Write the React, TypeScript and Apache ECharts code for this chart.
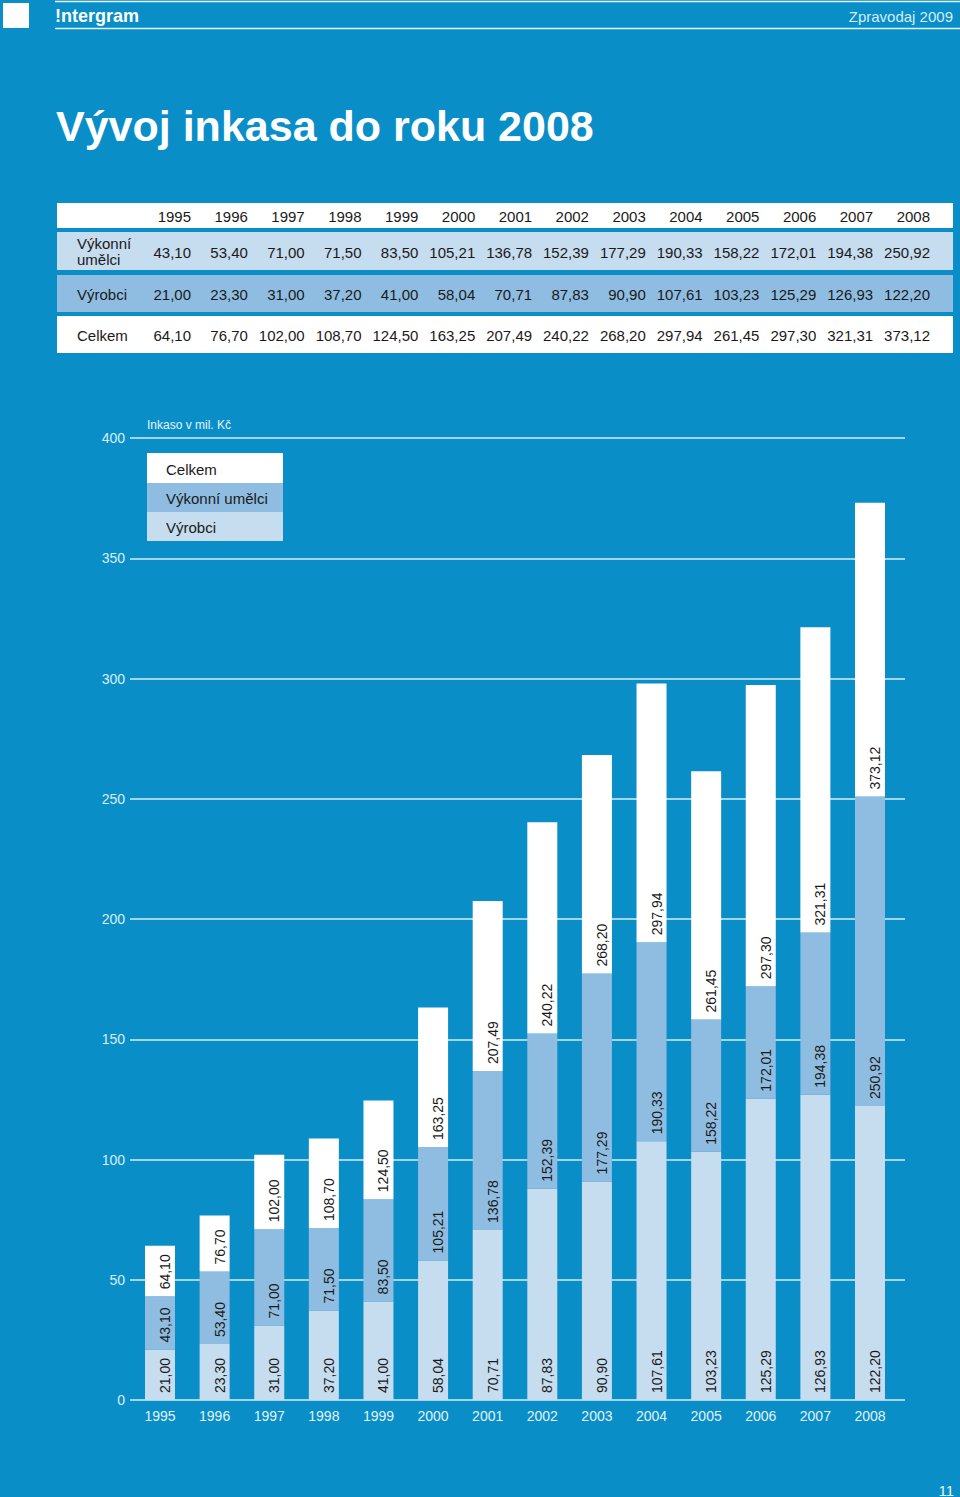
import React, { useEffect, useRef } from 'react';
import * as echarts from 'echarts';

const years = ['1995', '1996', '1997', '1998', '1999', '2000', '2001', '2002', '2003', '2004', '2005', '2006', '2007', '2008'];
const vykonni = [43.1, 53.4, 71.0, 71.5, 83.5, 105.21, 136.78, 152.39, 177.29, 190.33, 158.22, 172.01, 194.38, 250.92];
const vyrobci = [21.0, 23.3, 31.0, 37.2, 41.0, 58.04, 70.71, 87.83, 90.9, 107.61, 103.23, 125.29, 126.93, 122.2];
const celkem = [64.1, 76.7, 102.0, 108.7, 124.5, 163.25, 207.49, 240.22, 268.2, 297.94, 261.45, 297.3, 321.31, 373.12];
const seriesNames = ['Celkem', 'Výkonní umělci', 'Výrobci'];
const yMin = 0;
const yMax = 400;
const yStep = 50;

const BG = '#0a8ec8';
const MED = '#8fbde1';
const LIGHT = '#c6dcef';
const DARK = '#1a1a1a';
const FONT = '"Liberation Sans", Arial, Helvetica, sans-serif';

const fmt = (v: number) => v.toFixed(2).replace('.', ',');

function buildGraphic() {
  const g: any[] = [];
  // header
  g.push({ type: 'rect', shape: { x: 3, y: 3, width: 26, height: 25 }, style: { fill: '#ffffff' } });
  g.push({ type: 'line', shape: { x1: 55, y1: 1.5, x2: 960, y2: 1.5 }, style: { stroke: '#e6f4fb', lineWidth: 1.5 } });
  g.push({ type: 'line', shape: { x1: 55, y1: 28.5, x2: 960, y2: 28.5 }, style: { stroke: '#e6f4fb', lineWidth: 1.5 } });
  g.push({ type: 'text', x: 55, y: 15.5, style: { text: '!ntergram', fill: '#ffffff', font: `bold 18px ${FONT}`, align: 'left', verticalAlign: 'middle' } });
  g.push({ type: 'text', x: 953, y: 16, style: { text: 'Zpravodaj 2009', fill: '#d6edf8', font: `15px ${FONT}`, align: 'right', verticalAlign: 'middle' } });
  // title
  g.push({ type: 'text', x: 56, y: 126, style: { text: 'Vývoj inkasa do roku 2008', fill: '#ffffff', font: `bold 43px ${FONT}`, align: 'left', verticalAlign: 'middle' } });

  // table
  const tx = 57, tw = 896;
  const rows = [
    { y: 203, h: 25, fill: '#ffffff' },
    { y: 232, h: 38, fill: LIGHT },
    { y: 275, h: 37, fill: MED },
    { y: 316, h: 37, fill: '#ffffff' },
  ];
  rows.forEach((r) => g.push({ type: 'rect', shape: { x: tx, y: r.y, width: tw, height: r.h }, style: { fill: r.fill } }));
  const colRight = (i: number) => 191 + i * (930 - 191) / 13;
  const tFont = `15px ${FONT}`;
  const cy = [216, 252, 294, 335];
  years.forEach((yr, i) => {
    g.push({ type: 'text', x: colRight(i), y: cy[0], style: { text: yr, fill: DARK, font: tFont, align: 'right', verticalAlign: 'middle' } });
    g.push({ type: 'text', x: colRight(i), y: cy[1], style: { text: fmt(vykonni[i]), fill: DARK, font: tFont, align: 'right', verticalAlign: 'middle' } });
    g.push({ type: 'text', x: colRight(i), y: cy[2], style: { text: fmt(vyrobci[i]), fill: DARK, font: tFont, align: 'right', verticalAlign: 'middle' } });
    g.push({ type: 'text', x: colRight(i), y: cy[3], style: { text: fmt(celkem[i]), fill: DARK, font: tFont, align: 'right', verticalAlign: 'middle' } });
  });
  g.push({ type: 'text', x: 77, y: 243, style: { text: 'Výkonní', fill: DARK, font: tFont, align: 'left', verticalAlign: 'middle' } });
  g.push({ type: 'text', x: 77, y: 259, style: { text: 'umělci', fill: DARK, font: tFont, align: 'left', verticalAlign: 'middle' } });
  g.push({ type: 'text', x: 77, y: cy[2], style: { text: 'Výrobci', fill: DARK, font: tFont, align: 'left', verticalAlign: 'middle' } });
  g.push({ type: 'text', x: 77, y: cy[3], style: { text: 'Celkem', fill: DARK, font: tFont, align: 'left', verticalAlign: 'middle' } });

  // chart caption
  g.push({ type: 'text', x: 147, y: 425, style: { text: 'Inkaso v mil. Kč', fill: '#e6f4fb', font: `12px ${FONT}`, align: 'left', verticalAlign: 'middle' } });

  // legend box
  const lfills = ['#ffffff', MED, LIGHT];
  const ly = [453, 483, 512];
  const lh = [30, 29, 29];
  seriesNames.forEach((n, i) => {
    g.push({ type: 'rect', shape: { x: 147, y: ly[i], width: 136, height: lh[i] }, style: { fill: lfills[i] }, z: 10 });
    g.push({ type: 'text', x: 166, y: ly[i] + lh[i] / 2 + 1, z: 11, style: { text: n, fill: DARK, font: `15px ${FONT}`, align: 'left', verticalAlign: 'middle' } });
  });

  // page number
  g.push({ type: 'text', x: 954, y: 1490, style: { text: '11', fill: '#e6f4fb', font: `15px ${FONT}`, align: 'right', verticalAlign: 'middle' } });
  return g;
}

export default function App() {
  const ref = useRef<HTMLDivElement>(null);
  useEffect(() => {
    if (!ref.current) return;
    const chart = echarts.init(ref.current, undefined, { renderer: 'svg' });
    const segVykonni = vykonni.map((v, i) => +(v - vyrobci[i]).toFixed(2));
    const segCelkem = celkem.map((v, i) => +(v - vykonni[i]).toFixed(2));
    const labelBase = {
      show: true,
      position: 'insideBottom',
      rotate: 90,
      align: 'left',
      verticalAlign: 'middle',
      distance: 7,
      offset: [0, 5],
      color: DARK,
      fontSize: 14,
      fontFamily: FONT,
    };
    const option: any = {
      animation: false,
      backgroundColor: BG,
      textStyle: { fontFamily: FONT },
      graphic: buildGraphic(),
      grid: [
        { left: 130, right: 55, top: 438, bottom: 97, containLabel: false },
        { left: 132.7, right: 62.7, top: 438, bottom: 97, containLabel: false },
      ],
      xAxis: [
        { type: 'value', gridIndex: 0, min: 0, max: 1, show: false },
        {
          type: 'category',
          gridIndex: 1,
          data: years,
          axisLine: { show: false },
          axisTick: { show: false },
          axisLabel: { color: '#e3f3fb', fontSize: 14, fontFamily: FONT, margin: 9 },
        },
      ],
      yAxis: [
        {
          type: 'value',
          gridIndex: 0,
          min: yMin,
          max: yMax,
          interval: yStep,
          axisLine: { show: false },
          axisTick: { show: false },
          axisLabel: { color: '#d8eef9', fontSize: 14, fontFamily: FONT, margin: 5 },
          splitLine: { show: true, lineStyle: { color: '#d3ecf8', width: 1.5 } },
        },
        { type: 'value', gridIndex: 1, min: yMin, max: yMax, interval: yStep, show: false },
      ],
      series: [
        {
          name: seriesNames[2],
          type: 'bar',
          xAxisIndex: 1,
          yAxisIndex: 1,
          stack: 'total',
          barWidth: 30,
          data: vyrobci,
          itemStyle: { color: LIGHT },
          label: { ...labelBase, formatter: (p: any) => fmt(vyrobci[p.dataIndex]) },
        },
        {
          name: seriesNames[1],
          type: 'bar',
          xAxisIndex: 1,
          yAxisIndex: 1,
          stack: 'total',
          barWidth: 30,
          data: segVykonni,
          itemStyle: { color: MED },
          label: { ...labelBase, formatter: (p: any) => fmt(vykonni[p.dataIndex]) },
        },
        {
          name: seriesNames[0],
          type: 'bar',
          xAxisIndex: 1,
          yAxisIndex: 1,
          stack: 'total',
          barWidth: 30,
          data: segCelkem,
          itemStyle: { color: '#ffffff' },
          label: { ...labelBase, formatter: (p: any) => fmt(celkem[p.dataIndex]) },
        },
      ],
    };
    chart.setOption(option);
    return () => chart.dispose();
  }, []);
  return <div ref={ref} style={{ position: 'absolute', left: 0, top: 0, width: 960, height: 1497 }} />;
}
